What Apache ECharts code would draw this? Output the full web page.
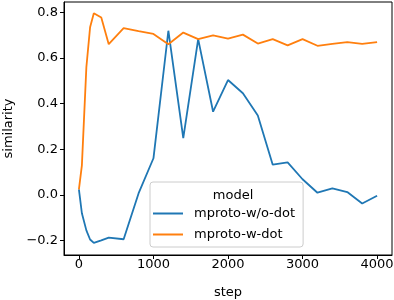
<!DOCTYPE html>
<html>
<head>
<meta charset="utf-8">
<script src="https://cdn.jsdelivr.net/npm/echarts@6/dist/echarts.min.js"></script>
<style>html,body{margin:0;padding:0;background:#fff}#c{width:394px;height:300px}</style>
</head>
<body>
<div id="c"></div>
<script>
var steps = [0, 40, 100, 150, 200, 300, 400, 600, 800, 1000, 1200, 1400, 1600, 1800, 2000, 2200, 2400, 2600, 2800, 3000, 3200, 3400, 3600, 3800, 4000];
var woDot = [0.025, -0.08, -0.155, -0.195, -0.21, -0.199, -0.187, -0.194, 0.007, 0.161, 0.72, 0.249, 0.683, 0.365, 0.504, 0.446, 0.348, 0.133, 0.143, 0.069, 0.010, 0.029, 0.013, -0.037, -0.003];
var wDot = [0.025, 0.13, 0.56, 0.735, 0.797, 0.778, 0.661, 0.731, 0.718, 0.706, 0.661, 0.712, 0.683, 0.700, 0.685, 0.703, 0.664, 0.683, 0.656, 0.683, 0.654, 0.662, 0.670, 0.662, 0.670];
var seriesNames = ['mproto-w/o-dot', 'mproto-w-dot'];
var xTicks = [0, 1000, 2000, 3000, 4000];
var yTicks = [-0.2, 0.0, 0.2, 0.4, 0.6, 0.8];

function pairs(xs, ys) { return xs.map(function (x, i) { return [x, ys[i]]; }); }
var font = 'DejaVu Sans';
var chart = echarts.init(document.getElementById('c'));
chart.setOption({
  animation: false,
  textStyle: { fontFamily: font },
  grid: { left: 64, right: 2, top: 2, bottom: 45, containLabel: false, outerBoundsMode: 'none', show: true, borderColor: '#000', borderWidth: 1, backgroundColor: 'transparent' },
  title: { text: 'model', left: 228, top: 184, textAlign: 'center', textStyle: { fontFamily: font, fontSize: 13, fontWeight: 'normal', color: '#000' } },
  legend: {
    orient: 'vertical', left: 150, top: 182,
    padding: [24, 8, 5, 3], itemGap: 6,
    borderColor: '#cccccc', borderWidth: 1, borderRadius: 3, backgroundColor: 'rgba(255,255,255,0.8)',
    icon: 'rect', itemWidth: 30, itemHeight: 2,
    textStyle: { fontFamily: font, fontSize: 13, color: '#000', lineHeight: 15, padding: [0, 0, 0, 6] },
    data: seriesNames
  },
  xAxis: {
    type: 'value', min: -200, max: 4200,
    name: 'step', nameLocation: 'middle', nameGap: 31,
    nameTextStyle: { fontFamily: font, fontSize: 13, color: '#000' },
    axisLine: { show: true, onZero: false, lineStyle: { color: '#000', width: 1 } },
    axisTick: { show: true, length: 4, lineStyle: { color: '#000' }, customValues: xTicks },
    axisLabel: { color: '#000', fontFamily: font, fontSize: 13, margin: 3, customValues: xTicks, formatter: function (v) { return String(v); } },
    splitLine: { show: false }
  },
  yAxis: {
    type: 'value', min: -0.263, max: 0.846,
    name: 'similarity', nameLocation: 'middle', nameGap: 49, nameRotate: 90,
    nameTextStyle: { fontFamily: font, fontSize: 13, color: '#000' },
    axisLine: { show: true, onZero: false, lineStyle: { color: '#000', width: 1 } },
    axisTick: { show: true, length: 4, lineStyle: { color: '#000' }, customValues: yTicks },
    axisLabel: { color: '#000', fontFamily: font, fontSize: 13, margin: 6, customValues: yTicks, formatter: function (v) { var s = Math.abs(v).toFixed(1); return (v < -1e-9 ? '\u2212' : '') + s; } },
    splitLine: { show: false }
  },
  series: [
    { name: seriesNames[0], type: 'line', data: pairs(steps, woDot), symbol: 'none', lineStyle: { color: '#1f77b4', width: 1.8 }, itemStyle: { color: '#1f77b4' } },
    { name: seriesNames[1], type: 'line', data: pairs(steps, wDot), symbol: 'none', lineStyle: { color: '#ff7f0e', width: 1.8 }, itemStyle: { color: '#ff7f0e' } }
  ]
});
</script>
</body>
</html>
